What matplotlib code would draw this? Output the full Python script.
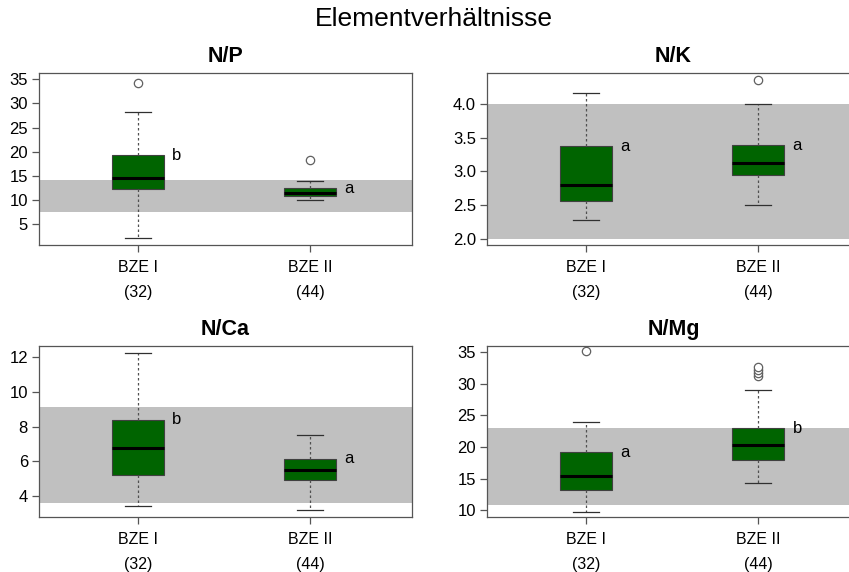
"""Elementverhaeltnisse -- boxplots of N/P, N/K, N/Ca, N/Mg for BZE I vs BZE II."""
import matplotlib
matplotlib.use("Agg")
import matplotlib.pyplot as plt

plt.rcParams["font.family"] = ["Liberation Sans", "DejaVu Sans"]

GROUPS = ["BZE I", "BZE II"]
COUNTS = ["(32)", "(44)"]
PANELS = ["N/P", "N/K", "N/Ca", "N/Mg"]

# per panel, per group: (whisker_lo, q1, median, q3, whisker_hi)
NP_STATS = [(2.0, 12.3, 14.6, 19.2, 28.2), (10.0, 10.9, 11.5, 12.4, 14.0)]
NK_STATS = [(2.28, 2.56, 2.79, 3.37, 4.17), (2.50, 2.95, 3.12, 3.39, 4.00)]
NCA_STATS = [(3.45, 5.25, 6.78, 8.38, 12.2), (3.2, 4.95, 5.5, 6.15, 7.53)]
NMG_STATS = [(9.8, 13.2, 15.4, 19.2, 23.9), (14.4, 17.9, 20.3, 23.0, 29.0)]

NP_OUT = [[34.3], [18.3]]
NK_OUT = [[], [4.36]]
NCA_OUT = [[], []]
NMG_OUT = [[35.2], [31.2, 31.7, 32.2, 32.6]]

NP_LETTERS = ["b", "a"]
NK_LETTERS = ["a", "a"]
NCA_LETTERS = ["b", "a"]
NMG_LETTERS = ["a", "b"]

# reference (optimum) range shown as grey band
NP_BAND = (7.5, 14.2)
NK_BAND = (2.0, 4.0)
NCA_BAND = (3.6, 9.1)
NMG_BAND = (10.9, 23.0)

NP_YLIM = (0.64, 36.3)
NK_YLIM = (1.906, 4.46)
NCA_YLIM = (2.82, 12.61)
NMG_YLIM = (8.96, 35.95)

NP_TICKS = [5, 10, 15, 20, 25, 30, 35]
NK_TICKS = [2.0, 2.5, 3.0, 3.5, 4.0]
NCA_TICKS = [4, 6, 8, 10, 12]
NMG_TICKS = [10, 15, 20, 25, 30, 35]

W, H = 849, 572
BOX_GREEN = "#006400"
FRAME = "#555555"
PX = 0.72  # points per pixel at dpi 100


def panel(ax, stats, outliers, letters, band, ylim, ticks, fmt):
    ax.set_xlim(0.427, 2.592)
    ax.set_ylim(ylim)
    ax.axhspan(band[0], band[1], color="#c0c0c0", lw=0, zorder=0)
    bxp = []
    for (lo, q1, med, q3, hi), fl in zip(stats, outliers):
        bxp.append(dict(whislo=lo, q1=q1, med=med, q3=q3, whishi=hi, fliers=fl))
    ax.bxp(bxp, positions=[1, 2], widths=0.3, patch_artist=True,
           showfliers=True, manage_ticks=False,
           boxprops=dict(facecolor=BOX_GREEN, edgecolor="#404040", lw=0.8),
           medianprops=dict(color="black", lw=2.2),
           whiskerprops=dict(color="#505050", lw=0.9, ls=(0, (2, 2))),
           capprops=dict(color="#303030", lw=0.9),
           capwidths=0.15,
           flierprops=dict(marker="o", mfc="white", mec="#606060",
                           ms=6, mew=0.9))
    for i, (s, lt) in enumerate(zip(stats, letters)):
        ax.text(i + 1 + 0.2, s[3], lt, fontsize=12, ha="left", va="center")
    ax.set_yticks(ticks)
    ax.set_yticklabels([fmt.format(t) for t in ticks])
    ax.set_xticks([1, 2])
    ax.set_xticklabels([])
    for i, (g, c) in enumerate(zip(GROUPS, COUNTS)):
        ax.annotate(g, xy=(i + 1, 0), xycoords=("data", "axes fraction"),
                    xytext=(0, -23 * PX), textcoords="offset points",
                    ha="center", va="center", fontsize=11.5)
        ax.annotate(c, xy=(i + 1, 0), xycoords=("data", "axes fraction"),
                    xytext=(0, -48 * PX), textcoords="offset points",
                    ha="center", va="center", fontsize=11.5)
    ax.tick_params(axis="both", labelsize=12, color=FRAME, length=5,
                   width=0.9, pad=3)
    for sp in ax.spines.values():
        sp.set_color(FRAME)
        sp.set_linewidth(0.9)


fig = plt.figure(figsize=(W / 100, H / 100), dpi=100)


def add_axes(x0, y0, x1, y1):
    # pixel coords (top-left origin) -> figure fraction
    return fig.add_axes([x0 / W, 1 - y1 / H, (x1 - x0) / W, (y1 - y0) / H])


ax1 = add_axes(39, 73, 412, 245)
ax2 = add_axes(487, 73, 860, 245)
ax3 = add_axes(39, 346, 412, 517)
ax4 = add_axes(487, 346, 860, 517)

panel(ax1, NP_STATS, NP_OUT, NP_LETTERS, NP_BAND, NP_YLIM, NP_TICKS, "{:d}")
panel(ax2, NK_STATS, NK_OUT, NK_LETTERS, NK_BAND, NK_YLIM, NK_TICKS, "{:.1f}")
panel(ax3, NCA_STATS, NCA_OUT, NCA_LETTERS, NCA_BAND, NCA_YLIM, NCA_TICKS, "{:d}")
panel(ax4, NMG_STATS, NMG_OUT, NMG_LETTERS, NMG_BAND, NMG_YLIM, NMG_TICKS, "{:d}")

for ax, t in zip([ax1, ax2, ax3, ax4], PANELS):
    ax.set_title(t, fontsize=15.5, fontweight="bold", pad=8)

fig.text(434 / W, 1 - 19 / H, "Elementverhältnisse", fontsize=19,
         ha="center", va="center")

fig.savefig("out.png", dpi=100)
